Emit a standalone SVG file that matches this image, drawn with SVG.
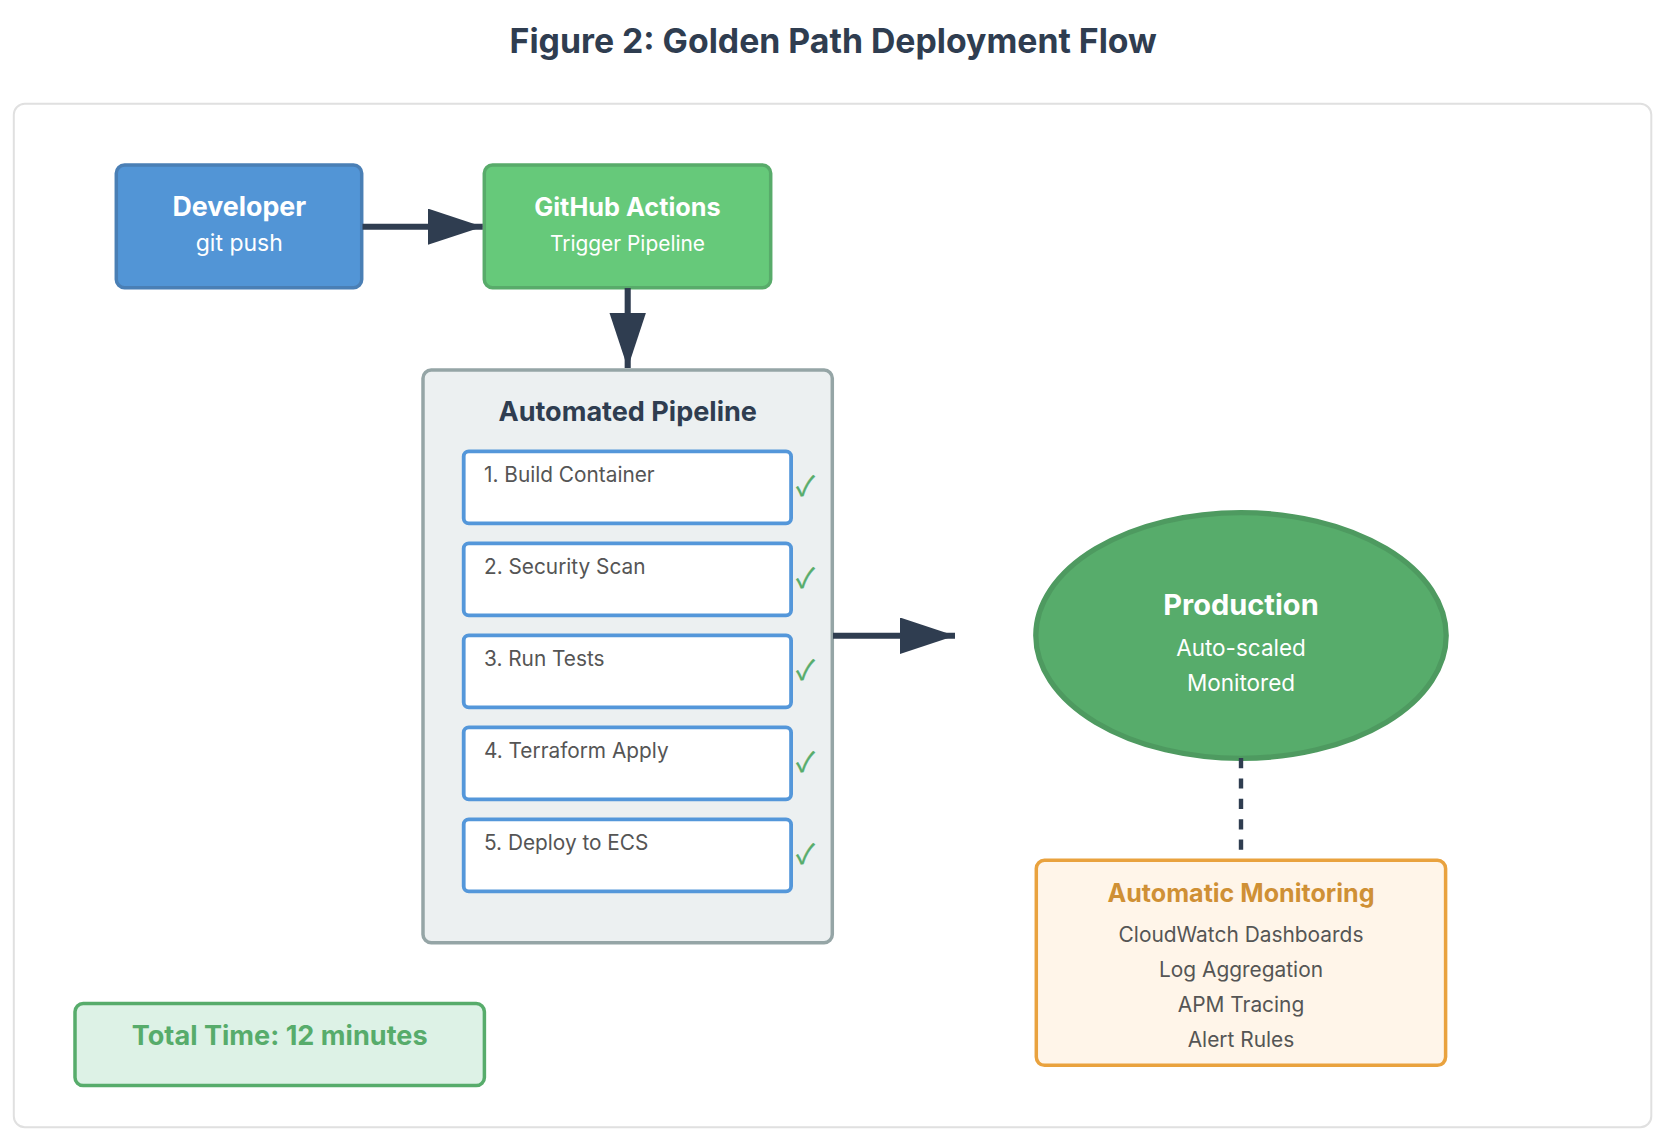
<svg xmlns="http://www.w3.org/2000/svg" width="1676" height="1146" viewBox="0 0 1676 1146">
<style>
text{font-family:"Inter","Noto Sans","Liberation Sans",sans-serif;text-anchor:middle}
.t{font-weight:700;fill:#fff}
.s{fill:#fff}
.box{stroke-width:3.5}
.step rect{fill:#fff;stroke:#5497DA;stroke-width:3.8}
.step .l{font-size:20.8px;fill:#555;text-anchor:start}
.step .c{font-family:"Noto Sans CJK JP",sans-serif;font-size:27px;fill:#57AC6B;stroke:#57AC6B;stroke-width:.5}
.m{font-size:20.9px;fill:#555}
.conn{stroke:#2F3D50;stroke-width:6.1;fill:none}
.dash{stroke:#2F3D50;stroke-width:4.4;stroke-dasharray:10.2;fill:none}
</style>
<defs>
<marker id="arrow" markerUnits="userSpaceOnUse" markerWidth="56" markerHeight="38" refX="55" refY="18.2" orient="auto"><polygon points="0,0 55,18.200 0,36.400" fill="#2F3D50"/></marker>
</defs>
<rect width="1676" height="1146" fill="#fff"/>
<text x="833.200" y="53.300" font-size="33.800" font-weight="700" fill="#2F3D50">Figure 2: Golden Path Deployment Flow</text>
<rect id="frame" x="13.800" y="103.800" width="1637.500" height="1023.400" rx="11" fill="#fff" stroke="#E0E0E0" stroke-width="2"/>
<g id="developer"><rect class="box" x="116.300" y="165" width="245.400" height="122.700" rx="8.200" fill="#5295D6" stroke="#4A7FB5"/><text class="t" x="239.300" y="216.200" font-size="26.800">Developer</text><text class="s" x="239.300" y="251" font-size="23">git push</text></g>
<g id="github-actions"><rect class="box" x="484.300" y="165" width="286.400" height="122.700" rx="8.200" fill="#66C97A" stroke="#58AB6A"/><text class="t" x="627.500" y="216.200" font-size="25.300">GitHub Actions</text><text class="s" x="627.500" y="251" font-size="20.900">Trigger Pipeline</text></g>
<g id="pipeline"><rect class="box" x="423" y="370" width="409.300" height="572.700" rx="8.200" fill="#ECF0F1" stroke="#95A5A6"/><text x="627.700" y="420.700" font-size="27.050" font-weight="700" fill="#2F3D50">Automated Pipeline</text>
<g class="step" id="step-1"><rect x="463.700" y="451.400" width="327.400" height="72" rx="5.100"/><text class="l" x="484" y="482.200">1. Build Container</text><text class="c" x="805.400" y="495.500">✓</text></g>
<g class="step" id="step-2"><rect x="463.700" y="543.400" width="327.400" height="72" rx="5.100"/><text class="l" x="484" y="574.200">2. Security Scan</text><text class="c" x="805.400" y="587.500">✓</text></g>
<g class="step" id="step-3"><rect x="463.700" y="635.400" width="327.400" height="72" rx="5.100"/><text class="l" x="484" y="666.200">3. Run Tests</text><text class="c" x="805.400" y="679.500">✓</text></g>
<g class="step" id="step-4"><rect x="463.700" y="727.400" width="327.400" height="72" rx="5.100"/><text class="l" x="484" y="758.200">4. Terraform Apply</text><text class="c" x="805.400" y="771.500">✓</text></g>
<g class="step" id="step-5"><rect x="463.700" y="819.400" width="327.400" height="72" rx="5.100"/><text class="l" x="484" y="850.200">5. Deploy to ECS</text><text class="c" x="805.400" y="863.500">✓</text></g>
</g>
<g id="production"><ellipse cx="1241" cy="635.500" rx="205.200" ry="122.900" fill="#57AC6B" stroke="#4E9A60" stroke-width="5.300"/><text class="t" x="1241" y="615" font-size="29">Production</text><text class="s" x="1241" y="655.700" font-size="22.500">Auto-scaled</text><text class="s" x="1241" y="690.700" font-size="22.500">Monitored</text></g>
<g id="monitoring"><rect class="box" x="1036.300" y="860.300" width="409.300" height="205" rx="8.200" fill="#FFF5E9" stroke="#E9A23E"/><text x="1241" y="901.700" font-size="25.100" font-weight="700" fill="#CF9035">Automatic Monitoring</text><text class="m" x="1241" y="942.300">CloudWatch Dashboards</text><text class="m" x="1241" y="977.300">Log Aggregation</text><text class="m" x="1241" y="1012.300">APM Tracing</text><text class="m" x="1241" y="1047.300">Alert Rules</text></g>
<g id="total-time"><rect class="box" x="75" y="1003.600" width="409.400" height="82" rx="8.200" fill="#DDF2E6" stroke="#57AC6B"/><text x="279.700" y="1045" font-size="27.100" font-weight="700" fill="#57AC6B">Total Time: 12 minutes</text></g>
<g id="connectors">
<path class="conn" d="M362.500 226.700H482.700" marker-end="url(#arrow)"/>
<path class="conn" d="M627.700 288V368" marker-end="url(#arrow)"/>
<path class="conn" d="M833 635.700H955" marker-end="url(#arrow)"/>
<path class="dash" d="M1241 758V851"/>
</g>
</svg>
